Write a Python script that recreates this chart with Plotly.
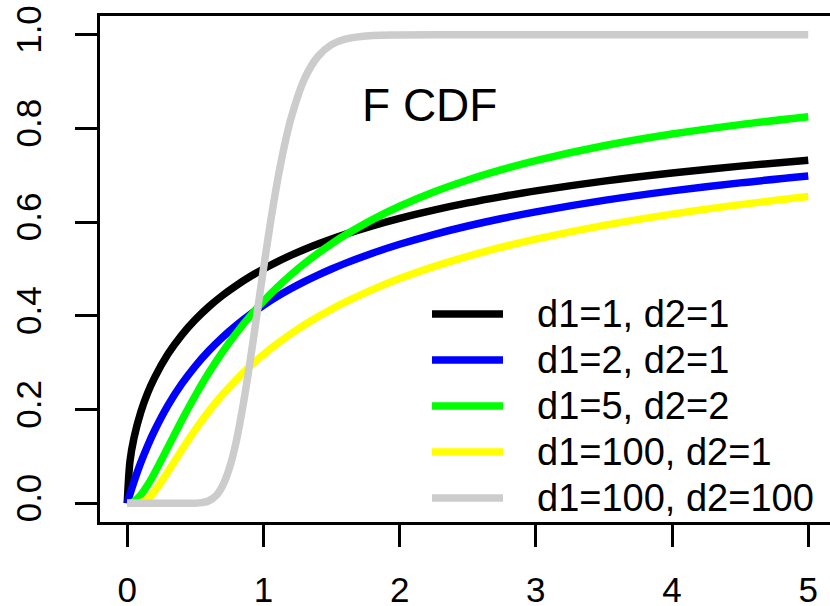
import plotly.graph_objects as go

# Sample points of the F cumulative distribution curves
x_main = [0, 0.02, 0.05, 0.1, 0.15, 0.2, 0.3, 0.4, 0.5, 0.6, 0.7, 0.8, 0.9, 1.0,
          1.1, 1.2, 1.3, 1.4, 1.5, 1.6, 1.8, 2.0, 2.25, 2.5, 2.75, 3.0, 3.5, 4.0, 4.5, 5.0]

cdf_1_1 = [0, 0.0894, 0.1401, 0.1950, 0.2354, 0.2677, 0.3190, 0.3590, 0.3918, 0.4196,
           0.4437, 0.4646, 0.4833, 0.5000, 0.5152, 0.5290, 0.5417, 0.5533, 0.5641, 0.5742,
           0.5922, 0.6082, 0.6257, 0.6410, 0.6545, 0.6667, 0.6875, 0.7048, 0.7196, 0.7323]

cdf_2_1 = [0, 0.0194, 0.0465, 0.0871, 0.1229, 0.1548, 0.2094, 0.2546, 0.2929, 0.3258,
           0.3545, 0.3798, 0.4024, 0.4226, 0.4410, 0.4577, 0.4730, 0.4870, 0.5000, 0.5120,
           0.5337, 0.5528, 0.5736, 0.5918, 0.6078, 0.6220, 0.6464, 0.6667, 0.6838, 0.6985]

cdf_5_2 = [0, 0.0005, 0.0041, 0.0179, 0.0388, 0.0642, 0.1203, 0.1768, 0.2300, 0.2789,
           0.3231, 0.3629, 0.3988, 0.4312, 0.4605, 0.4871, 0.5114, 0.5335, 0.5538, 0.5724,
           0.6055, 0.6339, 0.6643, 0.6900, 0.7121, 0.7313, 0.7630, 0.7880, 0.8082, 0.8250]

cdf_100_1 = [0, 0.0, 0.0, 0.0016, 0.0098, 0.0253, 0.0679, 0.1138, 0.1573, 0.1967,
             0.2321, 0.2636, 0.2918, 0.3173, 0.3404, 0.3613, 0.3804, 0.3980, 0.4142, 0.4292,
             0.4561, 0.4795, 0.5050, 0.5271, 0.5465, 0.5637, 0.5930, 0.6171, 0.6374, 0.6547]

x_narrow = [0, 0.2, 0.4, 0.5, 0.55, 0.6, 0.65, 0.7, 0.75, 0.8, 0.85, 0.9, 0.95, 1.0,
            1.05, 1.1, 1.15, 1.2, 1.3, 1.4, 1.5, 1.6, 1.8, 2.0, 2.5, 3.0, 4.0, 5.0]
cdf_100_100 = [0, 0, 0, 0.0002, 0.0014, 0.0054, 0.0156, 0.0375, 0.0751, 0.1314, 0.2083,
               0.2991, 0.3989, 0.5000, 0.5963, 0.6832, 0.7577, 0.8190, 0.9050, 0.9535,
               0.9788, 0.9906, 0.9984, 0.9997, 1.0, 1.0, 1.0, 1.0]

labels = ["d1=1, d2=1", "d1=2, d2=1", "d1=5, d2=2", "d1=100, d2=1", "d1=100, d2=100"]
colors = ["#000000", "#0000FF", "#00FF00", "#FFFF00", "#CCCCCC"]
series = [(x_main, cdf_1_1), (x_main, cdf_2_1), (x_main, cdf_5_2),
          (x_main, cdf_100_1), (x_narrow, cdf_100_100)]

FONT = "Liberation Sans, Arial, Helvetica, sans-serif"
LW = 7.5

fig = go.Figure()
for (xs, ys), name, col in zip(series, labels, colors):
    fig.add_trace(go.Scatter(
        x=xs, y=ys, mode="lines", name=name,
        line=dict(color=col, width=LW, shape="spline", smoothing=0.8),
        showlegend=False, hoverinfo="skip"))

# Legend drawn by hand: line samples and labels stacked in the lower right
L, R_, T, B = 100, 0, 16, 84
W, H = 830, 606
pw, ph = W - L - R_, H - T - B
def px_to_paper_x(px):
    return (px - L) / pw
def px_to_paper_y(py):
    return (H - B - py) / ph

row_y = [314, 360, 406, 452, 498]
for yy, name, col in zip(row_y, labels, colors):
    fig.add_shape(type="line", xref="paper", yref="paper",
                  x0=px_to_paper_x(432), x1=px_to_paper_x(503),
                  y0=px_to_paper_y(yy), y1=px_to_paper_y(yy),
                  line=dict(color=col, width=LW))
    fig.add_annotation(xref="paper", yref="paper",
                       x=px_to_paper_x(535), y=px_to_paper_y(yy),
                       xanchor="left", yanchor="middle", showarrow=False,
                       text=name, font=dict(family=FONT, size=38, color="black"))

fig.add_annotation(x=2.22, y=0.85, xref="x", yref="y", showarrow=False,
                   text="F CDF", font=dict(family=FONT, size=46, color="black"),
                   xanchor="center", yanchor="middle")

fig.update_xaxes(range=[-0.2, -0.2 + pw / 136.2], tickvals=[0, 1, 2, 3, 4, 5],
                 ticks="outside", ticklen=22, tickwidth=3, tickcolor="black",
                 showline=True, linewidth=3, linecolor="black", mirror=True,
                 showgrid=False, zeroline=False, ticklabelstandoff=13,
                 automargin=False,
                 tickfont=dict(family=FONT, size=35, color="black"))
fig.update_yaxes(range=[-0.04, 1.04], tickvals=[0, 0.2, 0.4, 0.6, 0.8, 1.0],
                 ticktext=["0.0", "0.2", "0.4", "0.6", "0.8", "1.0"],
                 ticks="outside", ticklen=22, tickwidth=3, tickcolor="black",
                 showline=True, linewidth=3, linecolor="black", mirror=False,
                 showgrid=False, zeroline=False, tickangle=-90, ticklabelstandoff=20,
                 automargin=False,
                 tickfont=dict(family=FONT, size=35, color="black"))

fig.update_layout(width=W, height=H, margin=dict(l=L, r=R_, t=T, b=B),
                  plot_bgcolor="white", paper_bgcolor="white")

fig.write_html("out.html")
